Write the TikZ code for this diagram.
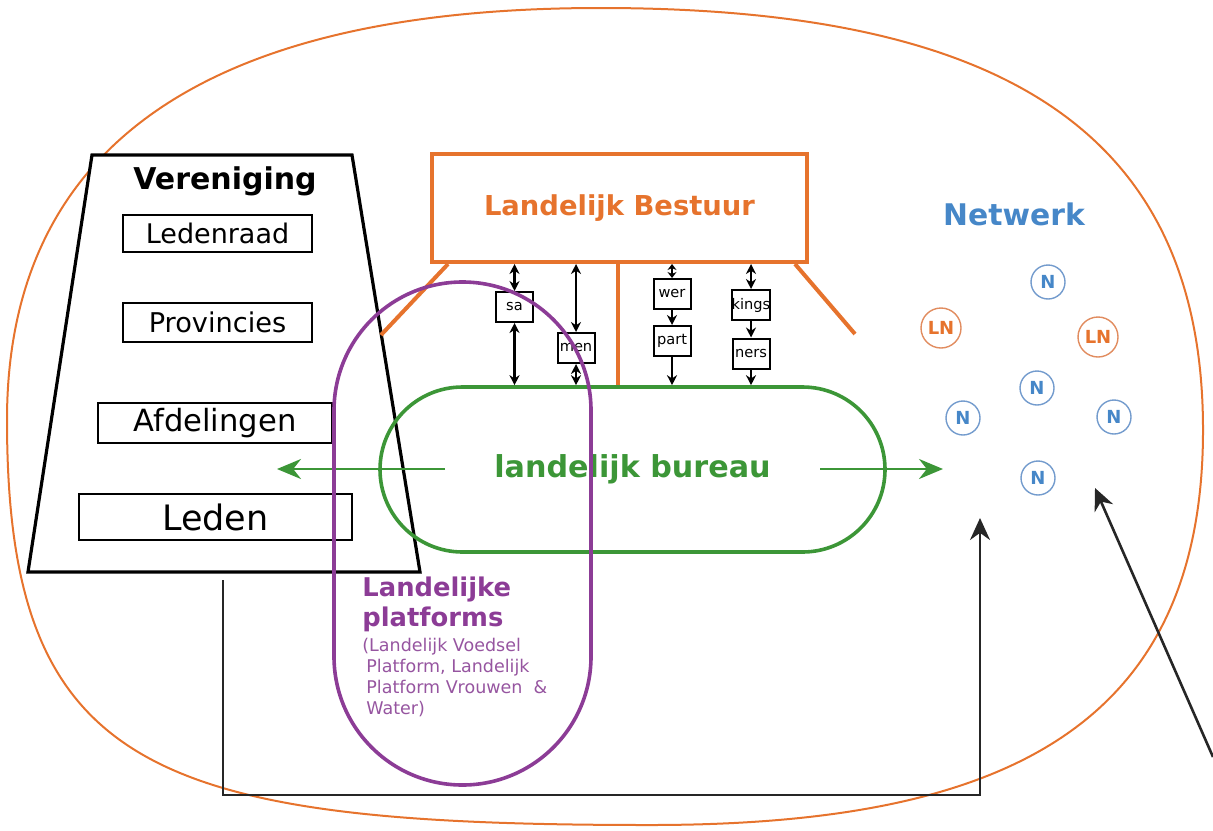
\documentclass[tikz,border=0pt]{standalone}
\usepackage{fontspec}
\setmainfont{DejaVu Sans}
\usetikzlibrary{arrows.meta}

\definecolor{lbOrange}{RGB}{230,115,45}
\definecolor{lbGreen}{RGB}{60,150,55}
\definecolor{lbPurple}{RGB}{140,60,150}
\definecolor{lbPurpleTxt}{RGB}{150,85,160}
\definecolor{lbBlue}{RGB}{70,135,200}
\definecolor{lbBlueRing}{RGB}{115,155,205}
\definecolor{lbOrangeRing}{RGB}{225,140,95}

\begin{document}
\begin{tikzpicture}[x=0.5pt,y=-0.5pt,
  blob/.style={draw=lbOrange, line width=1pt},
  trap/.style={draw=black, line width=1.6pt, fill=white, line join=miter},
  lidbox/.style={draw=black, line width=1pt, inner sep=0pt},
  bestuurbox/.style={draw=lbOrange, line width=2pt, inner sep=0pt, text=lbOrange,
    font=\fontsize{13.7}{16}\selectfont\bfseries},
  leg/.style={draw=lbOrange, line width=2pt},
  tinybox/.style={draw=black, line width=1pt, fill=white, inner sep=0pt,
    minimum width=18.5pt, minimum height=15pt, font=\fontsize{7.3}{8}\selectfont},
  dbl/.style={draw=black, line width=1.1pt, {Stealth[length=5pt,width=5pt]}-{Stealth[length=5pt,width=5pt]}},
  shortdbl/.style={draw=black, line width=1.1pt, {Stealth[length=3pt,width=4.5pt]}-{Stealth[length=3pt,width=4.5pt]}},
  sgl/.style={draw=black, line width=1.1pt, -{Stealth[length=5pt,width=5pt]}},
  bureaubox/.style={draw=lbGreen, line width=1.8pt, rounded corners=41.25pt, inner sep=0pt,
    minimum width=252.5pt, minimum height=82.5pt, text=lbGreen,
    font=\fontsize{15.1}{18}\selectfont\bfseries},
  greenarrow/.style={draw=lbGreen, line width=1.3pt, -{Stealth[length=12pt,width=10pt]}},
  platbox/.style={draw=lbPurple, line width=1.8pt, rounded corners=64.25pt, inner sep=0pt,
    minimum width=128.5pt, minimum height=251.5pt},
  blackarrow/.style={draw=black!85, line width=1.3pt, -{Stealth[length=11pt,width=10pt]}},
  ncirc/.style={circle, draw=lbBlueRing, line width=0.7pt, inner sep=0pt, minimum size=17pt,
    text=lbBlue, font=\fontsize{9}{10}\selectfont\bfseries},
  lncirc/.style={circle, draw=lbOrangeRing, line width=0.7pt, inner sep=0pt, minimum size=20pt,
    text=lbOrange, font=\fontsize{9}{10}\selectfont\bfseries}
]
\useasboundingbox (0,0) rectangle (1213,830);

% outer organisation outline
\draw[blob] (600,8)
  .. controls (1000,8) and (1203,130) .. (1203,430)
  .. controls (1203,730) and (1000,825) .. (650,825)
  .. controls (150,825) and (7,770) .. (7,420)
  .. controls (7,150) and (200,8) .. (600,8) -- cycle;

% association pyramid
\draw[trap] (92,155) -- (352,155) -- (420,572) -- (28,572) -- cycle;
\node[font=\fontsize{15}{18}\selectfont\bfseries] (vereniging) at (225,181) {Vereniging};
\node[lidbox, minimum width=94.5pt, minimum height=18.5pt, font=\fontsize{13.5}{16}\selectfont]
  (ledenraad) at (217.5,233.5) {Ledenraad};
\node[lidbox, minimum width=94.5pt, minimum height=19.5pt, font=\fontsize{13.6}{16}\selectfont]
  (provincies) at (217.5,322.5) {Provincies};
\node[lidbox, minimum width=117pt, minimum height=20pt, font=\fontsize{15.3}{18}\selectfont]
  (afdelingen) at (215,423) {Afdelingen};
\node[lidbox, minimum width=136.5pt, minimum height=23pt, font=\fontsize{17.5}{20}\selectfont]
  (leden) at (215.5,517) {Leden};

% national board
\node[bestuurbox, minimum width=187.5pt, minimum height=54pt] (bestuur) at (619.5,208) {Landelijk Bestuur};

% national office
\node[bureaubox] (bureau) at (632.5,469.5) {landelijk bureau};

% board legs
\draw[leg] ([xshift=9pt]bestuur.south west) -- ++(-67,71);
\draw[leg] ([xshift=-7pt]bestuur.south east) -- ++(60,70);
\draw[leg] ([xshift=-0.75pt]bestuur.south) -- ([xshift=-0.75pt]bestuur.south |- bureau.north);

% liaison boxes between board and office
\node[tinybox] (sa) at (514.5,307) {sa};
\node[tinybox] (men) at (576,348) {men};
\node[tinybox] (wer) at (672,294) {wer};
\node[tinybox] (part) at (672,341) {part};
\node[tinybox] (kings) at (751,305) {kings};
\node[tinybox] (ners) at (751,353.5) {ners};

\draw[dbl] (sa.north |- bestuur.south) -- (sa.north);
\draw[dbl] (sa.south) -- (sa.south |- bureau.north);
\draw[dbl] (men.north |- bestuur.south) -- (men.north);
\draw[dbl] (men.south) -- (men.south |- bureau.north);
\draw[shortdbl] (wer.north |- bestuur.south) -- (wer.north);
\draw[sgl] (wer.south) -- (part.north);
\draw[sgl] (part.south) -- (part.south |- bureau.north);
\draw[dbl] (kings.north |- bestuur.south) -- (kings.north);
\draw[sgl] (kings.south) -- (ners.north);
\draw[sgl] (ners.south) -- (ners.south |- bureau.north);

% office outreach arrows
\coordinate (gl0) at (445,469);
\coordinate (gl1) at (277,469);
\coordinate (gr0) at (820,469);
\coordinate (gr1) at (943,469);
\draw[greenarrow] (gl0) -- (gl1);
\draw[greenarrow] (gr0) -- (gr1);

% national platforms
\node[platbox] (platforms) at (462.5,533.5) {};
\node[anchor=north west, align=left, inner sep=0pt, text=lbPurple,
  font=\fontsize{12.9}{15}\selectfont\bfseries] (plattitle) at (362,576) {Landelijke\\platforms};
\node[anchor=north west, align=left, inner sep=0pt, text=lbPurpleTxt,
  font=\fontsize{8.75}{10.5}\selectfont] (platsub) at (362,638)
  {(Landelijk Voedsel\\\hspace{2pt}Platform, Landelijk\\\hspace{2pt}Platform Vrouwen\ \ \&\\\hspace{2pt}Water)};

% network
\node[text=lbBlue, font=\fontsize{14.9}{18}\selectfont\bfseries] (netwerk) at (1014,214) {Netwerk};
\node[ncirc] (n1) at (1048,282) {N};
\node[lncirc] (ln1) at (941,328) {LN};
\node[lncirc] (ln2) at (1098,337) {LN};
\node[ncirc] (n2) at (1037,388) {N};
\node[ncirc] (n3) at (963,418) {N};
\node[ncirc] (n4) at (1114,417) {N};
\node[ncirc] (n5) at (1038,478) {N};

% members to network
\coordinate (vbot) at (223,580);
\coordinate (elbow) at (223,795);
\coordinate (ntip) at (980,518);
\draw[blackarrow] (vbot) -- (elbow) -| (ntip);

% outside influence on network
\coordinate (ext) at (1213,757);
\coordinate (exttip) at (1095,488);
\draw[blackarrow] (ext) -- (exttip);
\end{tikzpicture}
\end{document}
